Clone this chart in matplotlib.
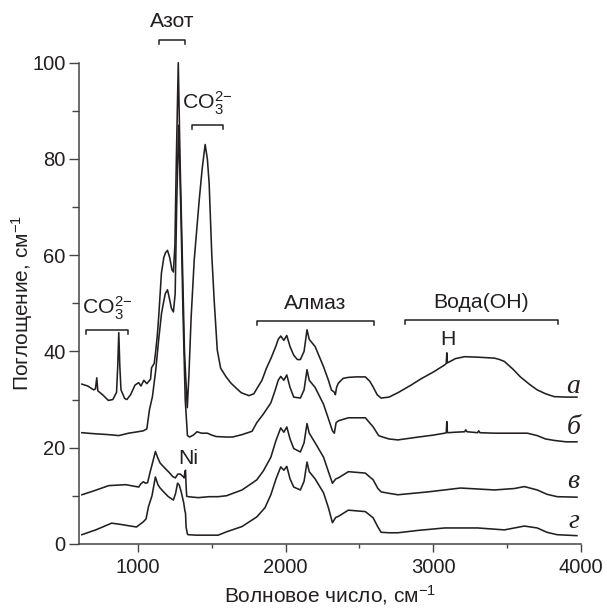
import matplotlib
matplotlib.use("Agg")
import matplotlib.pyplot as plt
from matplotlib.ticker import MultipleLocator, FixedLocator

plt.rcParams['font.family'] = ['Liberation Sans', 'DejaVu Sans']
plt.rcParams['mathtext.default'] = 'regular'

INK = '#231f20'

# ---- data ----
a_x = [620, 660, 700, 712, 721, 728, 760, 800, 830, 855, 863, 870, 877, 885, 910, 925, 950, 980,
       1005, 1020, 1040, 1060, 1085, 1092, 1110, 1118, 1130, 1140, 1159, 1175, 1186, 1200, 1215,
       1230, 1240, 1250, 1260, 1273, 1285, 1300, 1315, 1334, 1345, 1360, 1381, 1400, 1415, 1435,
       1455, 1470, 1482, 1500, 1516, 1537, 1560, 1597, 1630, 1664, 1700, 1752, 1785, 1810, 1840,
       1870, 1900, 1933, 1950, 1967, 1988, 2008, 2030, 2055, 2080, 2100, 2125, 2145, 2160, 2200,
       2257, 2290, 2310, 2330, 2337, 2345, 2357, 2390, 2425, 2480, 2540, 2570, 2593, 2620, 2647,
       2700, 2760, 2850, 2917, 3000, 3078, 3088, 3092, 3096, 3150, 3213, 3300, 3415, 3450, 3482,
       3540, 3590, 3650, 3704, 3760, 3818, 3900, 3973]
a_y = [33.2, 32.8, 32.0, 32.2, 34.5, 31.8, 31.0, 29.8, 30.0, 31.5, 37, 43.9, 37, 32, 30.2, 30.0, 31.0,
       33.0, 33.5, 32.8, 34.0, 33.3, 34.2, 36.6, 37.5, 39.5, 43, 47, 56.3, 59.5, 60.5, 61.0, 59.5,
       57.0, 56.5, 62, 80, 100, 80, 60, 40, 28.3, 35, 47, 59, 66, 71.5, 78, 83, 80, 75, 60, 50.7,
       40.3, 36.5, 34.7, 33.4, 32.4, 31.4, 30.8, 31.2, 32.5, 34, 36.5, 38.5, 41, 42.5, 43.2, 42.3,
       43.3, 41, 39.2, 38.3, 38.3, 40, 44.5, 42.5, 41, 36.8, 34, 32, 31.5, 31, 32.5, 33.4, 34.4,
       34.6, 34.7, 34.7, 33.8, 32.6, 31, 30.3, 30.5, 31.4, 33, 34.3, 35.7, 37.2, 37.5, 39.7, 37.6,
       38.5, 38.9, 38.8, 38.6, 38.3, 37.9, 36.3, 34.7, 33.2, 32, 31.2, 30.6, 30.5, 30.5]

b_x = [620, 700, 800, 870, 937, 1000, 1037, 1060, 1078, 1098, 1120, 1140, 1160, 1172, 1185, 1200,
       1213, 1226, 1240, 1252, 1262, 1275, 1290, 1305, 1320, 1335, 1350, 1375, 1400, 1430, 1470,
       1500, 1530, 1600, 1640, 1705, 1773, 1805, 1850, 1900, 1930, 1950, 1967, 1988, 2008, 2030,
       2055, 2100, 2125, 2145, 2160, 2200, 2257, 2290, 2317, 2330, 2342, 2360, 2425, 2540, 2593,
       2630, 2647, 2700, 2760, 2900, 3000, 3078, 3088, 3092, 3096, 3150, 3213, 3220, 3228, 3300,
       3308, 3316, 3415, 3500, 3637, 3704, 3760, 3818, 3900, 3973]
b_y = [23.1, 22.9, 22.7, 22.5, 23.0, 23.3, 23.5, 23.9, 27.9, 30.6, 36, 42.4, 48, 50, 52, 52.8, 51,
       49, 48.2, 52, 70, 87, 70, 48, 30, 22.5, 22.2, 22.6, 23.3, 23.0, 23.0, 22.6, 22.3, 22.2, 22.2,
       22.7, 23.4, 25.2, 27, 29.3, 32, 34, 34.8, 34, 35.1, 32.5, 30.5, 30.3, 32, 36.2, 34, 32.5,
       29, 26, 23.5, 23, 25.2, 25.6, 26.2, 26.2, 24.3, 22.5, 22.3, 21.8, 21.6, 22.2, 22.6, 23.0,
       23.1, 25.4, 23.1, 23.2, 23.3, 23.7, 23.3, 23.1, 23.5, 23.1, 23.0, 23.0, 23.0, 22.5, 21.8,
       21.5, 21.2, 21.2]

v_x = [620, 700, 802, 917, 1005, 1020, 1037, 1050, 1065, 1083, 1100, 1118, 1135, 1150, 1180, 1206,
       1235, 1253, 1270, 1287, 1305, 1313, 1318, 1322, 1326, 1330, 1340, 1408, 1482, 1543, 1600,
       1705, 1805, 1850, 1900, 1935, 1967, 1988, 2008, 2030, 2055, 2100, 2125, 2145, 2160, 2200,
       2257, 2290, 2317, 2340, 2357, 2425, 2540, 2593, 2625, 2647, 2700, 2760, 2965, 3185, 3415,
       3550, 3617, 3704, 3770, 3839, 3973]
v_y = [10.2, 11.0, 12.1, 12.3, 11.8, 12.5, 12.9, 12.6, 12.7, 15, 17, 19.2, 17.8, 16.8, 15.8, 15,
       14.0, 13.7, 14.5, 14.5, 14.0, 13.7, 15, 15.3, 12, 9.9, 9.8, 9.6, 9.8, 9.8, 10, 11.2, 13.3,
       15.2, 18, 21.5, 24.1, 23.2, 24.3, 21.8, 19.8, 19.1, 21, 25, 23, 21, 18, 15, 12.6, 13.5,
       13.7, 15, 14.7, 13.3, 11.5, 10.8, 10.5, 10.2, 10.8, 11.6, 11.2, 11.5, 11.9, 11.2, 10.3,
       9.8, 9.7]

g_x = [620, 714, 822, 890, 990, 1037, 1055, 1071, 1095, 1118, 1135, 1150, 1180, 1206, 1240, 1255,
       1268, 1280, 1293, 1310, 1318, 1322, 1326, 1335, 1340, 1400, 1543, 1600, 1705, 1805, 1860,
       1900, 1935, 1967, 1988, 2008, 2030, 2055, 2100, 2125, 2145, 2160, 2200, 2257, 2290, 2317,
       2340, 2357, 2425, 2540, 2593, 2625, 2647, 2700, 2760, 2900, 3078, 3300, 3482, 3617, 3704,
       3770, 3839, 3973]
g_y = [1.9, 2.9, 4.3, 4.0, 3.5, 4.6, 5.2, 7.7, 10, 13.9, 12.3, 11.6, 10.6, 9.8, 9.1, 10.5, 12.6,
       12.2, 10.8, 8.5, 6.8, 6.4, 3.5, 2.0, 1.9, 1.8, 1.8, 2.5, 3.6, 5.6, 7.5, 10.2, 13.5, 16,
       15.3, 16.1, 13.5, 11.8, 11.2, 13, 17, 15, 13.5, 10.6, 7.5, 4.4, 5.5, 5.7, 7, 6.7, 5.4, 3.5,
       2.4, 2.3, 2.3, 2.8, 3.3, 3.3, 2.9, 3.7, 3.3, 2.4, 1.9, 1.7]

curve_labels = ['а', 'б', 'в', 'г']
curve_label_y = [32.8, 24.2, 13.0, 4.6]

# band annotations: (text, x_start, x_end, bracket_y, text_y)
bands = [
    ('Азот', 1145, 1320, 104.8, 108.6),
    ('CO$_3^{2{-}}$', 1368, 1576, 87.1, 91.6),
    ('CO$_3^{2{-}}$', 647, 930, 44.5, 48.9),
    ('Алмаз', 1805, 2600, 46.4, 49.9),
    ('Вода(OH)', 2809, 3846, 46.6, 50.1),
]
point_labels = [('H', 3098, 42.4), ('Ni', 1340, 17.7)]

# ---- figure ----
fig = plt.figure(figsize=(6.07, 6.09), dpi=100)
ax = fig.add_axes([0.130, 0.107, 0.827, 0.790])

for xs, ys in [(a_x, a_y), (b_x, b_y), (v_x, v_y), (g_x, g_y)]:
    ax.plot(xs, ys, color=INK, lw=1.15, clip_on=False)

for lab, ly in zip(curve_labels, curve_label_y):
    ax.text(3950, ly, lab, family=['Liberation Serif', 'DejaVu Serif'], style='italic',
            fontsize=20, ha='center', va='center', color=INK)

tick_h = 0.9
for txt, x0, x1, by, ty in bands:
    ax.plot([x0, x0, x1, x1], [by - tick_h, by, by, by - tick_h], color=INK, lw=1.1,
            clip_on=False)
    ax.text((x0 + x1) / 2, ty, txt, fontsize=15.3, ha='center', va='center', color=INK)

for txt, x, y in point_labels:
    ax.text(x, y, txt, fontsize=15.3, ha='center', va='center', color=INK)

ax.set_xlim(600, 4000)
ax.set_ylim(0, 100)
ax.xaxis.set_major_locator(FixedLocator([1000, 2000, 3000, 4000]))
ax.xaxis.set_minor_locator(FixedLocator([1500, 2500, 3500]))
ax.yaxis.set_major_locator(MultipleLocator(20))
ax.yaxis.set_minor_locator(FixedLocator([10, 30, 50, 70, 90]))

for s in ['top', 'right']:
    ax.spines[s].set_visible(False)
for s in ['left', 'bottom']:
    ax.spines[s].set_color('#444444')
    ax.spines[s].set_linewidth(1.1)

ax.tick_params(axis='x', which='major', direction='out', length=5.5, width=1.0,
               colors='#444444', labelcolor=INK, labelsize=14.5, pad=5)
ax.tick_params(axis='x', which='minor', direction='out', length=3, width=1.0, colors='#444444')
ax.tick_params(axis='y', which='major', direction='out', length=7.5, width=1.0,
               colors='#444444', labelcolor=INK, labelsize=14.5, pad=2)
ax.tick_params(axis='y', which='minor', direction='out', length=5, width=1.0, colors='#444444')

ax.set_xlabel('Волновое число, см$^{-1}$', fontsize=15, color=INK, labelpad=4)
ax.set_ylabel('Поглощение, см$^{-1}$', fontsize=15, color=INK)
ax.yaxis.set_label_coords(-0.088, 0.5)

fig.savefig('out.png', dpi=100)
